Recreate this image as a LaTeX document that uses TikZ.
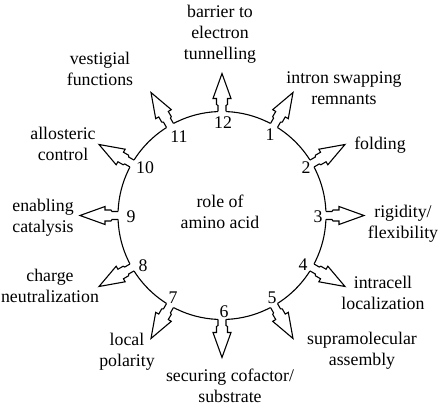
\documentclass[tikz,border=0pt]{standalone}
\usepackage{fontspec}
\setmainfont{Liberation Serif}
\begin{document}
\begin{tikzpicture}[x=1pt,y=-1pt,
  lbl/.style={font=\fontsize{17.8}{21}\selectfont, align=center, inner sep=0pt},
  num/.style={font=\fontsize{17.8}{21}\selectfont, inner sep=0pt},
  ring/.style={line width=1.1pt},
  blockarrow/.style={line width=1.1pt, line join=miter}]
\useasboundingbox (0,0) rectangle (440,406);
\coordinate (c) at (222,215.5);
\draw[ring] (c) circle[radius=104pt];
\foreach \a in {90,60,30,0,-30,-60,-90,-120,-150,-180,-210,-240} {
  \begin{scope}[shift={(c)}, rotate=\a]
    \fill[white] (102,-4) -- (110,-4) -- (111,-5.5) -- (117,-5.5) -- (117,-9) -- (142,0)
      -- (117,9) -- (117,5.5) -- (111,5.5) -- (110,4) -- (102,4) -- cycle;
    \draw[blockarrow] (104,-4) -- (110,-4) -- (111,-5.5) -- (117,-5.5) -- (117,-9) -- (142,0)
      -- (117,9) -- (117,5.5) -- (111,5.5) -- (110,4) -- (104,4);
  \end{scope}
}
% numbers
\node[num] (n12) at (223,123) {12};
\node[num] (n1) at (270,135) {1};
\node[num] (n2) at (306,168) {2};
\node[num] (n3) at (318,217) {3};
\node[num] (n4) at (303,265) {4};
\node[num] (n5) at (272,298) {5};
\node[num] (n6) at (224,312) {6};
\node[num] (n7) at (173,298) {7};
\node[num] (n8) at (143,266) {8};
\node[num] (n9) at (131,217) {9};
\node[num] (n10) at (145,168) {10};
\node[num] (n11) at (179,137) {11};
% labels
\node[lbl] (center) at (220,211.5) {role of\\amino acid};
\node[lbl] (l12) at (220,34) {barrier to\\electron\\tunnelling};
\node[lbl] (l11) at (100,69) {vestigial\\functions};
\node[lbl] (l1) at (344,88.5) {intron swapping\\remnants};
\node[lbl] (l10) at (63,144) {allosteric\\control};
\node[lbl] (l2) at (380,145) {folding};
\node[lbl] (l9) at (43,218) {enabling\\catalysis};
\node[lbl] (l3) at (403,223.5) {rigidity/\\flexibility};
\node[lbl] (l8) at (50,285.5) {charge\\neutralization};
\node[lbl] (l4) at (383,292.5) {intracell\\localization};
\node[lbl] (l7) at (127,352) {local\\polarity};
\node[lbl] (l5) at (362,350.5) {supramolecular\\assembly};
\node[lbl] (l6) at (230,385.5) {securing cofactor/\\substrate};
\end{tikzpicture}
\end{document}
